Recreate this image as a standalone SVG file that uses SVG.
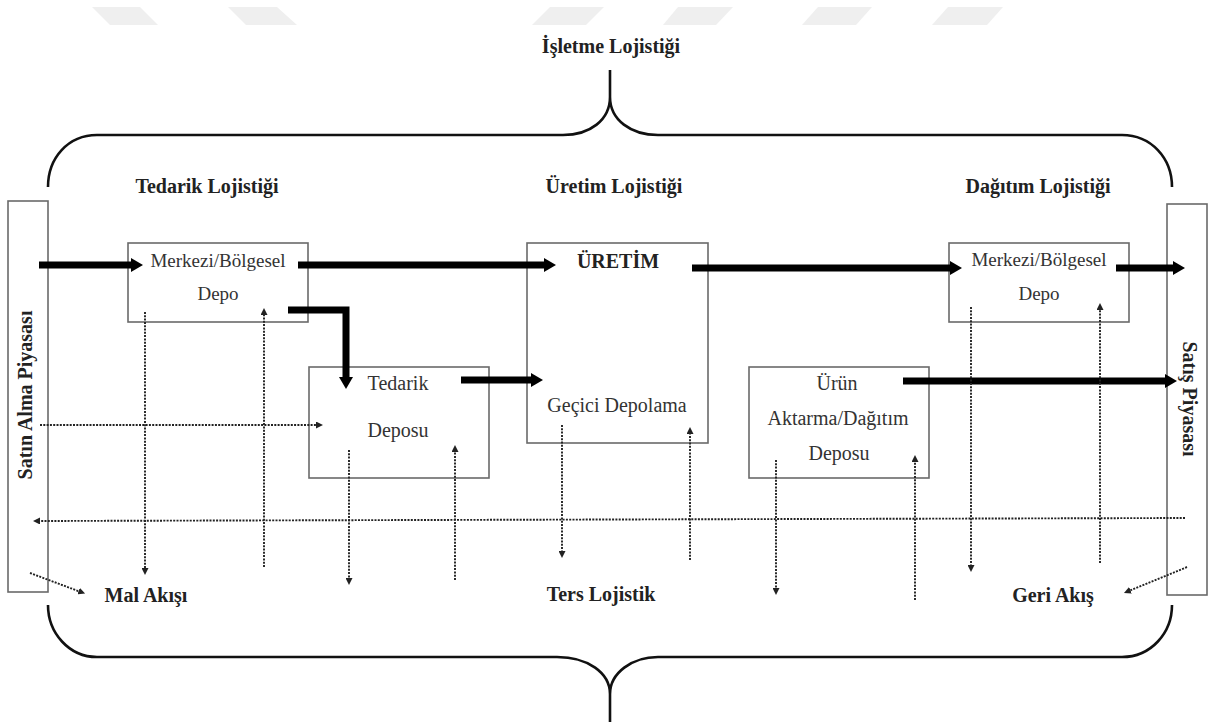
<svg xmlns="http://www.w3.org/2000/svg" width="1208" height="722" viewBox="0 0 1208 722">
<style>
.wm{fill:#efefef}
.brace{fill:none;stroke:#111;stroke-width:2.6}
.box{fill:#fff;stroke:#6a6a6a;stroke-width:1.6}
.thick{fill:none;stroke:#000;stroke-width:7}
.dot{fill:none;stroke:#222;stroke-width:1.9;stroke-dasharray:2 1.3}
.t{font-family:"Liberation Serif","Times New Roman",serif;font-size:19px;fill:#333;text-anchor:middle}
.tb{font-family:"Liberation Serif","Times New Roman",serif;font-size:20px;font-weight:bold;fill:#222;text-anchor:middle}
.tr{font-family:"Liberation Serif","Times New Roman",serif;font-size:20px;fill:#333;text-anchor:middle}
</style>
<defs>
<marker id="ah" markerUnits="userSpaceOnUse" markerWidth="12" markerHeight="14" refX="2" refY="7" orient="auto"><path d="M0,0 L12,7 L0,14 z" fill="#000"/></marker>
<marker id="dh" markerUnits="userSpaceOnUse" markerWidth="7" markerHeight="7" refX="1" refY="3.5" orient="auto"><path d="M0,0 L7,3.5 L0,7 z" fill="#222"/></marker>
</defs>
<rect width="1208" height="722" fill="#fff"/>
<g id="watermark">
<polygon class="wm" points="92,7 140,7 158,25 110,25"/>
<polygon class="wm" points="228,7 277,7 297,25 246,25"/>
<polygon class="wm" points="550,7 604,7 586,25 532,25"/>
<polygon class="wm" points="678,7 733,7 716,25 663,25"/>
<polygon class="wm" points="818,7 872,7 856,25 802,25"/>
<polygon class="wm" points="948,7 1003,7 987,25 932,25"/>
</g>
<g id="braces">
<path class="brace" d="M48,187 C48,158 68,135 97,135 L563,135 C590,135 610,120 610,97 C610,120 631,135 658,135 L1122,135 C1151,135 1172,158 1172,187 M610,97 V70"/>
<path class="brace" d="M48,605 C48,633 69,657 97,657 L557,657 C588,657 610,673 610,694 C610,673 632,657 658,657 L1122,657 C1151,657 1172,633 1172,605 M610,694 V722"/>
</g>
<g id="titles">
<text class="tb" x="611" y="53">İşletme Lojistiği</text>
<text class="tb" x="207" y="193">Tedarik Lojistiği</text>
<text class="tb" x="614" y="193">Üretim Lojistiği</text>
<text class="tb" x="1038" y="193">Dağıtım Lojistiği</text>
</g>
<g id="satin-alma">
<rect class="box" x="8" y="201" width="40" height="391"/>
<text class="tb" transform="translate(32,395) rotate(-90)">Satın Alma Piyasası</text>
</g>
<g id="satis">
<rect class="box" x="1167" y="204" width="40" height="391"/>
<text class="tb" transform="translate(1183,399) rotate(90)">Satış Piyasası</text>
</g>
<g id="merkezi-l">
<rect class="box" x="128" y="243" width="180" height="79"/>
<text class="t" x="218" y="267">Merkezi/Bölgesel</text>
<text class="t" x="218" y="300">Depo</text>
</g>
<g id="tedarik-deposu">
<rect class="box" x="309" y="367" width="180" height="111"/>
<text class="tr" x="398" y="390">Tedarik</text>
<text class="tr" x="398" y="437">Deposu</text>
</g>
<g id="uretim">
<rect class="box" x="527" y="243" width="181" height="200"/>
<text class="tb" x="618" y="268">ÜRETİM</text>
<text class="tr" x="617" y="412">Geçici Depolama</text>
</g>
<g id="urun">
<rect class="box" x="749" y="367" width="180" height="111"/>
<text class="tr" x="837" y="390">Ürün</text>
<text class="tr" x="838" y="425">Aktarma/Dağıtım</text>
<text class="tr" x="839" y="460">Deposu</text>
</g>
<g id="merkezi-r">
<rect class="box" x="949" y="243" width="180" height="79"/>
<text class="t" x="1039" y="266">Merkezi/Bölgesel</text>
<text class="t" x="1039" y="300">Depo</text>
</g>
<g id="connectors">
<path class="thick" marker-end="url(#ah)" d="M39,265 H133"/>
<path class="thick" marker-end="url(#ah)" d="M298,265 H546"/>
<path class="thick" marker-end="url(#ah)" d="M692,268 H952"/>
<path class="thick" marker-end="url(#ah)" d="M1116,268 H1175"/>
<path class="thick" marker-end="url(#ah)" d="M288,310 H346 V379"/>
<path class="thick" marker-end="url(#ah)" d="M461,380 H533"/>
<path class="thick" marker-end="url(#ah)" d="M903,381 H1167"/>
<path class="dot" marker-end="url(#dh)" d="M145,312 V569"/>
<path class="dot" marker-end="url(#dh)" d="M264,567 V314"/>
<path class="dot" marker-end="url(#dh)" d="M40,425 H317"/>
<path class="dot" marker-end="url(#dh)" d="M349,450 V579"/>
<path class="dot" marker-end="url(#dh)" d="M455,580 V451"/>
<path class="dot" marker-end="url(#dh)" d="M562,425 V552"/>
<path class="dot" marker-end="url(#dh)" d="M690,560 V433"/>
<path class="dot" marker-end="url(#dh)" d="M776,460 V589"/>
<path class="dot" marker-end="url(#dh)" d="M915,600 V461"/>
<path class="dot" marker-end="url(#dh)" d="M971,307 V566"/>
<path class="dot" marker-end="url(#dh)" d="M1100,563 V309"/>
<path class="dot" marker-end="url(#dh)" d="M1185,518 L39,521"/>
<path class="dot" marker-end="url(#dh)" d="M30,573 L79.5,591.5"/>
<path class="dot" marker-end="url(#dh)" d="M1187,567 L1129.5,590.7"/>
</g>
<g id="labels">
<text class="tb" x="146" y="602">Mal Akışı</text>
<text class="tb" x="601" y="601">Ters Lojistik</text>
<text class="tb" x="1053" y="602">Geri Akış</text>
</g>
</svg>
